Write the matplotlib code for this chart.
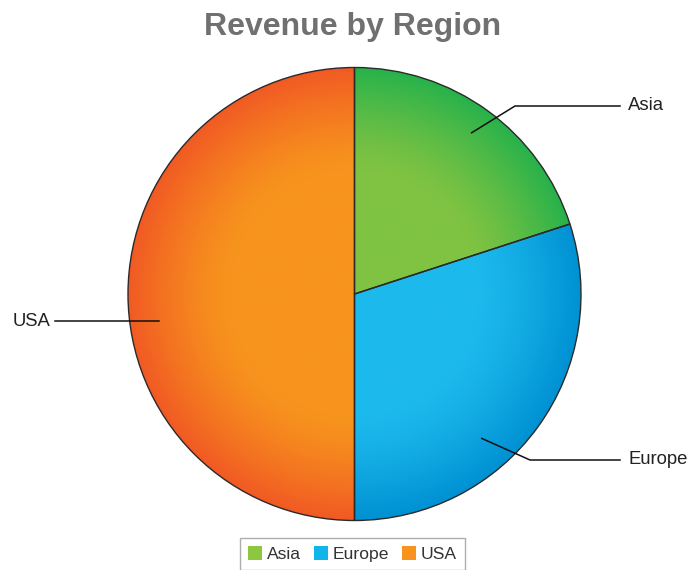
import matplotlib.pyplot as plt
import numpy as np
from matplotlib.patches import Patch
from matplotlib.colors import to_rgb

# Revenue share by region
regions = ["Asia", "Europe", "USA"]
revenue = [20, 30, 50]

inner_cols = ["#80c342", "#1cb9ec", "#f7941d"]
outer_cols = ["#27b24b", "#0091d3", "#f15a24"]
legend_cols = ["#8dc63f", "#12b5ea", "#f7931e"]

plt.rcParams['font.family'] = ['Liberation Sans', 'DejaVu Sans']

fig = plt.figure(figsize=(6.9, 5.7), dpi=100)
ax = fig.add_axes([0, 0, 1, 1])

cx, cy, R = 354.5, 276, 226.5

wedges, _ = ax.pie(revenue, startangle=90, counterclock=False,
                   center=(cx, cy), radius=R, frame=True,
                   wedgeprops=dict(edgecolor="#2a2a2a", linewidth=1.0))
ax.set_xlim(0, 690)
ax.set_ylim(0, 570)
ax.axis("off")

# radial gradient per wedge, clipped to wedge shape
n = 400
xs = np.linspace(cx - R, cx + R, n)
ys = np.linspace(cy - R, cy + R, n)
X, Y = np.meshgrid(xs, ys)
rr = np.sqrt((X - cx) ** 2 + (Y - cy) ** 2) / R
t = np.clip((rr - 0.55) / 0.45, 0, 1) ** 1.3
for w, ci, co in zip(wedges, inner_cols, outer_cols):
    a = np.array(to_rgb(ci))
    b = np.array(to_rgb(co))
    img = a[None, None, :] * (1 - t[..., None]) + b[None, None, :] * t[..., None]
    w.set_facecolor("none")
    im = ax.imshow(img, extent=(cx - R, cx + R, cy - R, cy + R), origin="lower",
                   zorder=1, interpolation="bilinear")
    im.set_clip_path(w)
    w.set_zorder(2)

# leader lines: anchor (angle deg, r fraction), elbow, label x
anchors = [(54, 0.88), (-48.6, 0.85), (188, 0.87)]
elbows = [(515, 464), (530, 110), None]
label_x = [628, 628, 50]
for name, (ang, rf), elb, lx in zip(regions, anchors, elbows, label_x):
    px = cx + rf * R * np.cos(np.radians(ang))
    py = cy + rf * R * np.sin(np.radians(ang))
    if elb is None:
        xs_l = [px, lx + 5]
        ys_l = [py, py]
        ha = "right"
        ty = py
    else:
        xs_l = [px, elb[0], lx - 8]
        ys_l = [py, elb[1], elb[1]]
        ha = "left"
        ty = elb[1]
    ax.plot(xs_l, ys_l, color="#111111", lw=1.1, zorder=3)
    ax.text(lx, ty, name, ha=ha, va="center", fontsize=13.3, color="#222222")

ax.text(353, 543, "Revenue by Region", ha="center", va="center",
        fontsize=23, fontweight="bold", color="#707070")

handles = [Patch(facecolor=c, edgecolor="none") for c in legend_cols]
leg = fig.legend(handles, regions, loc="lower center", bbox_to_anchor=(0.511, 0.0),
                 ncol=3, frameon=True, fancybox=False, fontsize=12.6,
                 handlelength=0.8, handleheight=0.8, handletextpad=0.3,
                 columnspacing=0.7, borderpad=0.45, borderaxespad=0,
                 labelcolor="#333333")
leg.get_frame().set_edgecolor("#999999")
leg.get_frame().set_linewidth(1.0)

fig.savefig("out.png", dpi=100)
